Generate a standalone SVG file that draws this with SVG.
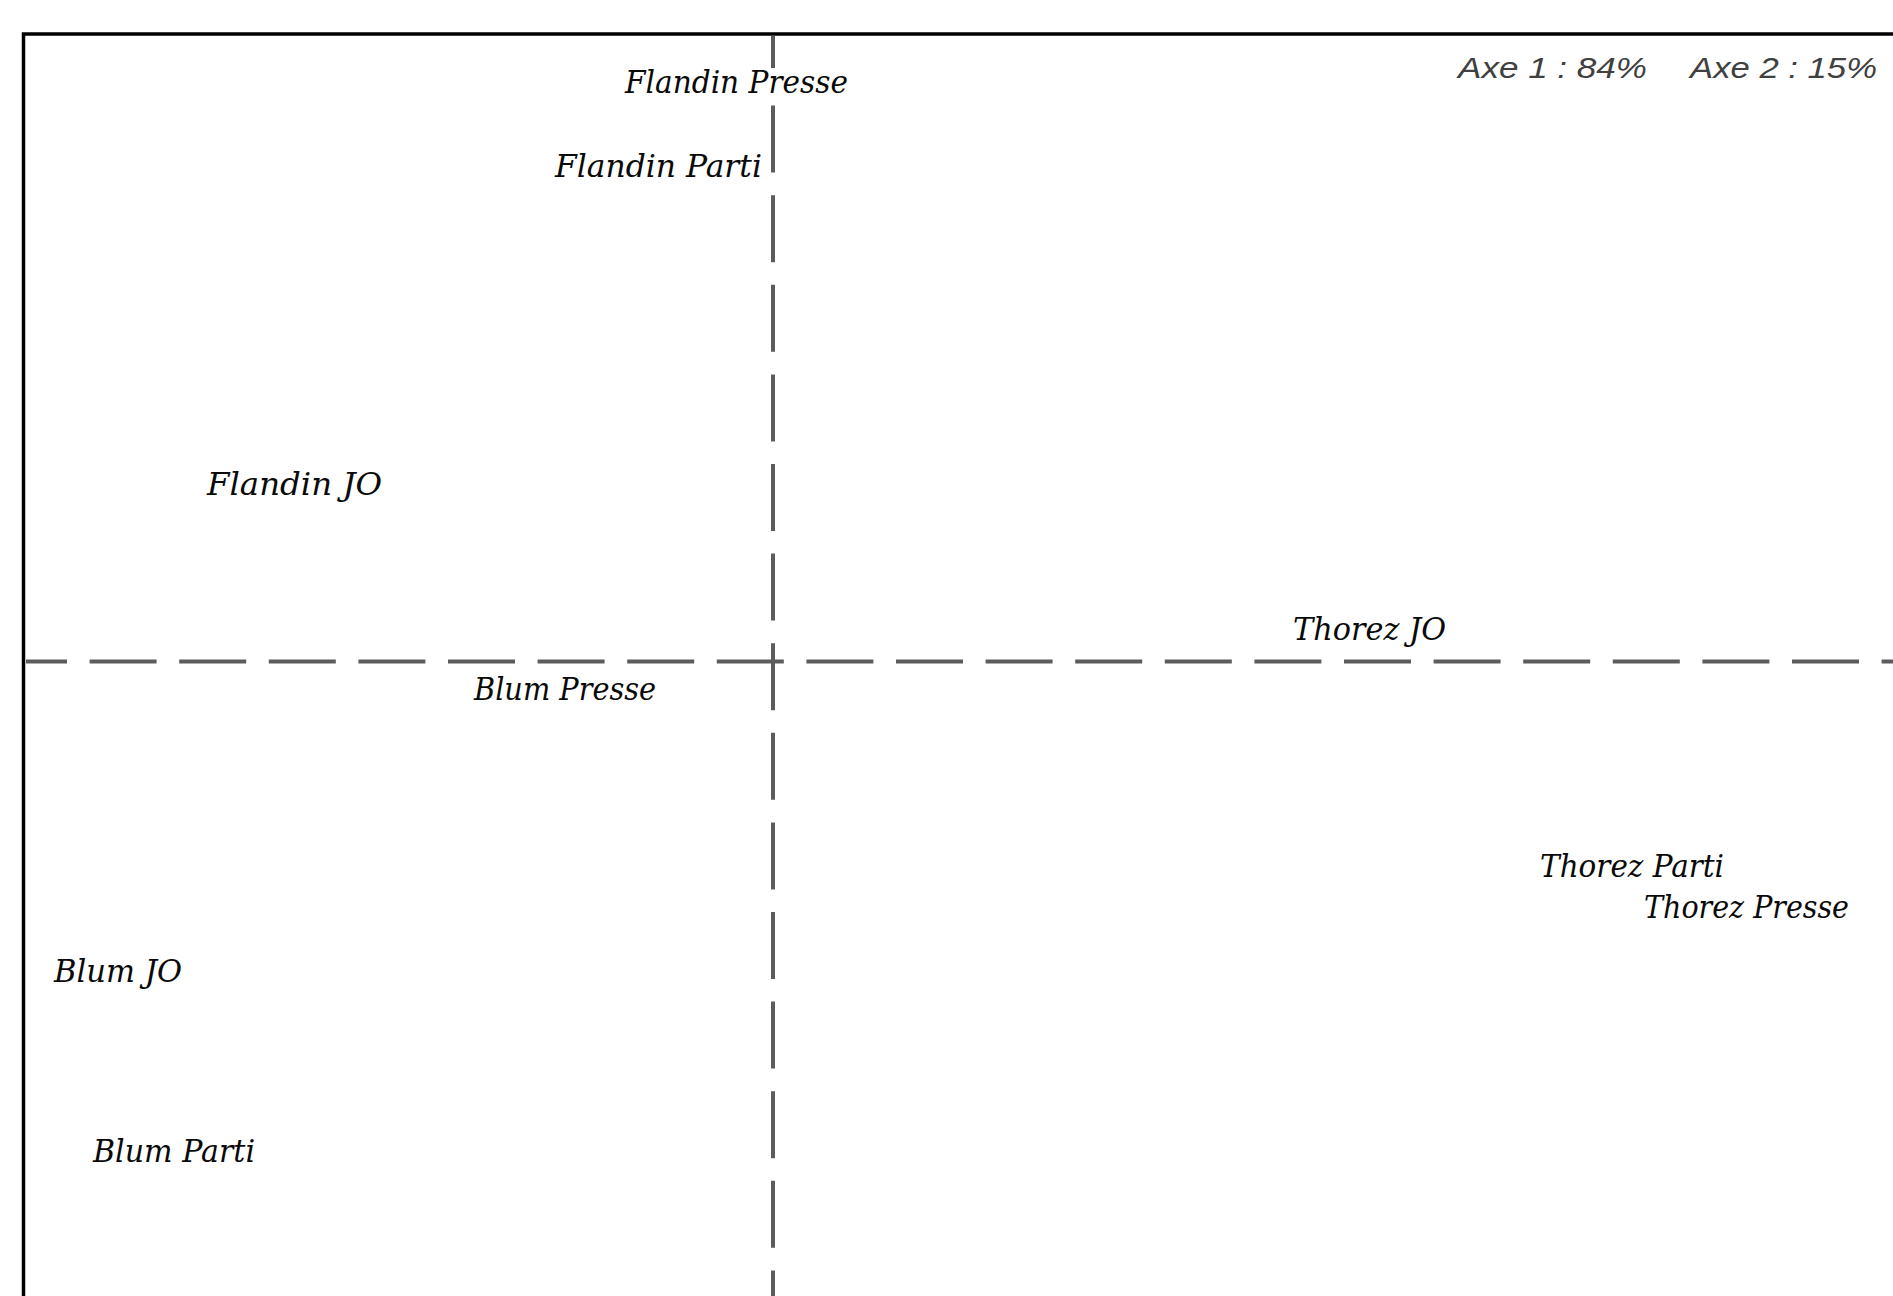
<svg xmlns="http://www.w3.org/2000/svg" width="1893" height="1296" viewBox="0 0 1893 1296">
  <style>
    .lbl { font-family: "DejaVu Serif", "Liberation Serif", serif; font-style: italic; font-size: 32px; fill: #0a0a0a; }
    .axe { font-family: "Liberation Sans", Arial, sans-serif; font-style: italic; font-size: 30px; fill: #404040; }
    .axis { stroke: #5c5c5c; stroke-width: 4; fill: none; stroke-dasharray: 67 22.6; }
  </style>
  <rect x="0" y="0" width="1893" height="1296" fill="#fff"/>
  <g id="frame">
    <rect x="23.5" y="34" width="2000" height="2000" fill="none" stroke="#000" stroke-width="3.5"/>
  </g>
  <g id="axes">
    <line class="axis" x1="26" y1="661.5" x2="1893" y2="661.5" stroke-dashoffset="26"/>
    <line class="axis" x1="773" y1="36" x2="773" y2="1296" stroke-dashoffset="20"/>
  </g>
  <g id="axe-info">
    <text class="axe"><tspan x="1458" y="78" textLength="189" lengthAdjust="spacingAndGlyphs">Axe 1 :  84%</tspan><tspan x="1690" y="78" textLength="187" lengthAdjust="spacingAndGlyphs">Axe 2 :  15%</tspan></text>
  </g>
  <g id="flandin-presse">
    <rect x="620" y="68" width="236" height="37" fill="#fff"/>
    <text class="lbl" x="625" y="93" textLength="223" lengthAdjust="spacingAndGlyphs">Flandin Presse</text>
  </g>
  <g id="flandin-parti">
    <text class="lbl" x="555" y="177" textLength="207" lengthAdjust="spacingAndGlyphs">Flandin Parti</text>
  </g>
  <g id="flandin-jo">
    <text class="lbl" x="207" y="495" textLength="175" lengthAdjust="spacingAndGlyphs">Flandin JO</text>
  </g>
  <g id="thorez-jo">
    <text class="lbl" x="1293" y="640" textLength="153" lengthAdjust="spacingAndGlyphs">Thorez JO</text>
  </g>
  <g id="blum-presse">
    <text class="lbl" x="474" y="700" textLength="182" lengthAdjust="spacingAndGlyphs">Blum Presse</text>
  </g>
  <g id="thorez-parti">
    <text class="lbl" x="1540" y="877" textLength="184" lengthAdjust="spacingAndGlyphs">Thorez Parti</text>
  </g>
  <g id="thorez-presse">
    <text class="lbl" x="1644" y="918" textLength="205" lengthAdjust="spacingAndGlyphs">Thorez Presse</text>
  </g>
  <g id="blum-jo">
    <text class="lbl" x="54" y="982" textLength="128" lengthAdjust="spacingAndGlyphs">Blum JO</text>
  </g>
  <g id="blum-parti">
    <text class="lbl" x="93" y="1162" textLength="162" lengthAdjust="spacingAndGlyphs">Blum Parti</text>
  </g>
</svg>
